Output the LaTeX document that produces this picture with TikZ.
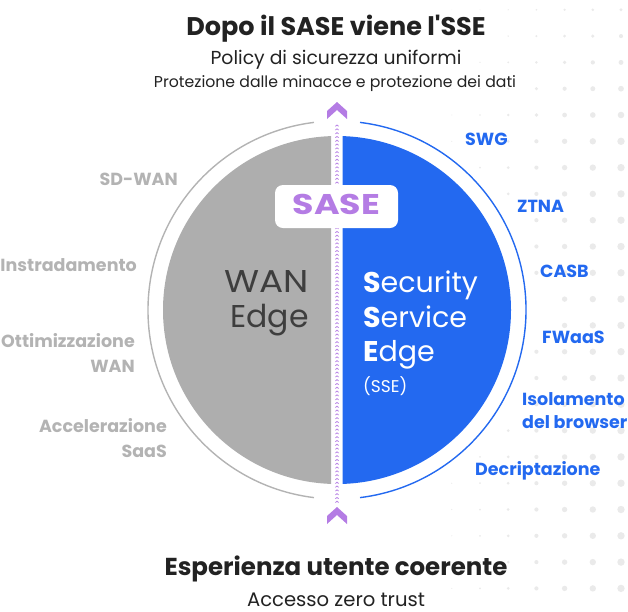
\documentclass[tikz,border=0pt]{standalone}
\usepackage{fontspec}
\setmainfont{Poppins}
\newfontfamily\pop{Poppins}
\newfontfamily\popwide{Poppins}[FakeStretch=1.22]
\newfontfamily\popwan{Poppins}[FakeStretch=1.14]
\definecolor{ttl}{HTML}{222222}
\definecolor{lgray}{HTML}{B3B3B3}
\definecolor{dgray}{HTML}{AEAEAE}
\definecolor{wtxt}{HTML}{3E3E3E}
\definecolor{sblue}{HTML}{2369F0}
\definecolor{purp}{HTML}{B47CE4}
\definecolor{dotc}{HTML}{EAEAEA}
\tikzset{
  lbl/.style={inner sep=0pt, font=\pop\bfseries\fontsize{17.5}{17.5}\selectfont},
  lleft/.style={lbl, text=lgray, anchor=base east},
  lright/.style={lbl, text=sblue, anchor=base west},
  ctr/.style={inner sep=0pt, anchor=base, text=ttl},
  wanstyle/.style={inner sep=0pt, anchor=base east, text=wtxt, font=\pop\fontsize{31.5}{31.5}\selectfont},
  ssestyle/.style={inner sep=0pt, anchor=base west, text=white, font=\pop\fontsize{28.5}{28.5}\selectfont},
}
\begin{document}
\begin{tikzpicture}[x=1pt,y=-1pt]
\useasboundingbox (0,0) rectangle (628,611);
\clip (0,0) rectangle (628,611);
% dot pattern
\foreach \j/\r in {0/3.7,1/3.2,2/2.7,3/2.1,4/1.5,5/1.0,6/0.6} {
  \foreach \k in {0,...,22} {
    \pgfmathsetmacro{\xx}{621-28.2*\j}
    \pgfmathsetmacro{\yy}{9.8+26.3*\k}
    \pgfmathsetmacro{\dd}{veclen(\xx/10-33.7,\yy/10-31)}
    \pgfmathsetmacro{\fade}{min(1,0.45+0.11*\k)}
    \pgfmathparse{\dd>20?1:0}
    \ifnum\pgfmathresult=1
      \fill[dotc] (\xx,\yy) circle ({\r*\fade});
    \fi
  }
}
% disk halves
\begin{scope}
\clip (0,0) rectangle (331,611);
\fill[dgray] (337,310) circle (174);
\end{scope}
\begin{scope}
\clip (342.5,0) rectangle (628,611);
\fill[sblue] (337,310) circle (174);
\end{scope}
% outer arcs
\draw[lgray, line width=1.4pt] (337,310) ++(97:189) arc (97:263:189);
\draw[sblue, line width=1.4pt] (337,310) ++(-83:189) arc (-83:83:189);
% purple chevron line
\foreach \y in {125,128.8,...,503} {
  \draw[purp, line width=0.75pt] (335.4,\y+1.3) -- (337,\y) -- (338.6,\y+1.3);
}
\fill[purp] (327,111) -- (337,102) -- (347,111) -- (347,119) -- (337,110) -- (327,119) -- cycle;
\fill[purp] (327,516) -- (337,507) -- (347,516) -- (347,524) -- (337,515) -- (327,524) -- cycle;
% SASE box
\node[fill=white, rounded corners=8pt, minimum width=123pt, minimum height=43pt, inner sep=0pt] (box) at (336.5,206.5) {};
\node[inner sep=0pt, anchor=base, text=purp, font=\popwide\bfseries\fontsize{28.5}{28.5}\selectfont] (sase) at (336.5,214) {SASE};
% titles
\node[ctr, font=\pop\bfseries\fontsize{25.5}{25.5}\selectfont] (title) at (336,35) {Dopo il SASE viene l'SSE};
\node[ctr, font=\pop\fontsize{18.8}{18.8}\selectfont] (sub1) at (336,64) {Policy di sicurezza uniformi};
\node[ctr, font=\pop\fontsize{15.7}{15.7}\selectfont] (sub2) at (335,87) {Protezione dalle minacce e protezione dei dati};
\node[ctr, font=\pop\bfseries\fontsize{24.5}{24.5}\selectfont] (bot1) at (336,575) {Esperienza utente coerente};
\node[ctr, font=\pop\fontsize{19.6}{19.6}\selectfont] (bot2) at (336,606) {Accesso zero trust};
% left labels
\node[lleft] (sdwan) at (178,185) {SD-WAN};
\node[lleft] (instr) at (137,271) {Instradamento};
\node[lleft] (ott1) at (135,347) {Ottimizzazione};
\node[lleft] (ott2) at (135,372) {WAN};
\node[lleft] (acc1) at (167,432) {Accelerazione};
\node[lleft] (acc2) at (167,457) {SaaS};
% right labels
\node[lright] (swg) at (465,145) {SWG};
\node[lright] (ztna) at (517,212) {ZTNA};
\node[lright] (casb) at (540,277) {CASB};
\node[lright] (fwaas) at (542,343) {FWaaS};
\node[lright] (iso1) at (522,405) {Isolamento};
\node[lright] (iso2) at (522,428) {del browser};
\node[lright] (decr) at (475,475) {Decriptazione};
% centre texts
\node[wanstyle, font=\popwan\fontsize{31.5}{31.5}\selectfont] (wan) at (309,292) {WAN};
\node[wanstyle] (edge) at (309,327) {Edge};
\node[ssestyle] (sec) at (363,292) {\textbf{S}ecurity};
\node[ssestyle] (serv) at (363,327) {\textbf{S}ervice};
\node[ssestyle] (edg) at (363,361) {\textbf{E}dge};
\node[inner sep=0pt, anchor=base west, text=white, font=\pop\fontsize{17}{17}\selectfont] (sse) at (363,392) {(SSE)};
\end{tikzpicture}
\end{document}
